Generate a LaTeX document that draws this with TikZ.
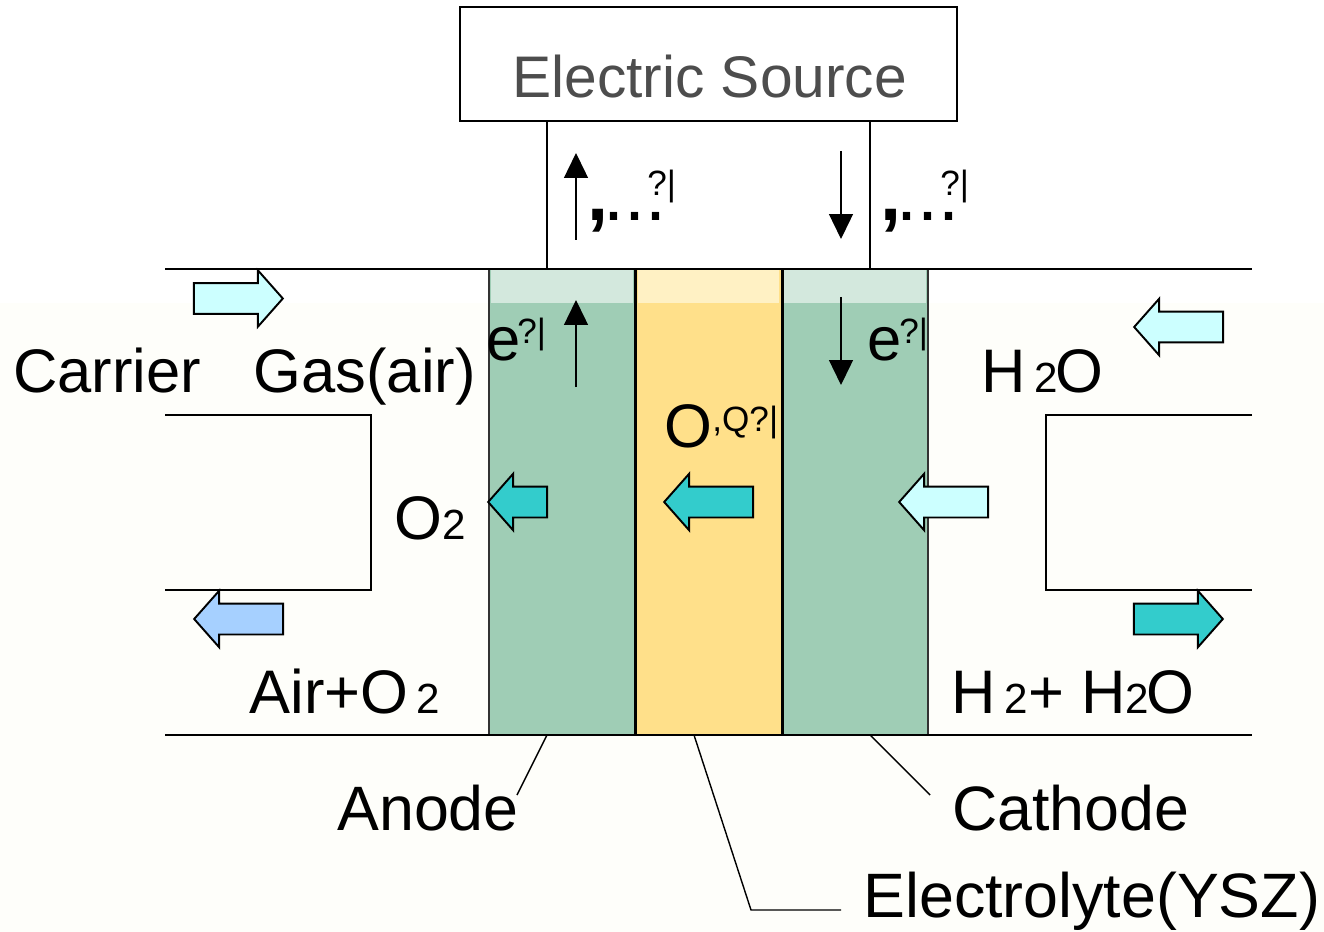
\documentclass[tikz,border=0pt]{standalone}
\usepackage{fontspec}
\setmainfont{Liberation Sans}
\usetikzlibrary{arrows.meta,shapes.arrows}
\definecolor{paper}{HTML}{FEFEFA}
\definecolor{layergreen}{HTML}{9FCDB5}
\definecolor{stripgreen}{HTML}{D3E8DD}
\definecolor{layeryellow}{HTML}{FFE08A}
\definecolor{stripyellow}{HTML}{FFF1C4}
\definecolor{flowpale}{HTML}{CCFFFF}
\definecolor{flowteal}{HTML}{33CCCC}
\definecolor{flowblue}{HTML}{A6D0FF}
\definecolor{sourcegrey}{HTML}{4D4D4D}
\newcommand{\lblsize}{\fontsize{35}{40}\selectfont}
\newcommand{\biglblsize}{\fontsize{35.7}{40}\selectfont}
\newcommand{\supsize}{\fontsize{20}{24}\selectfont}
\newcommand{\smalltwo}{{\fontsize{24}{28}\selectfont 2}}
\tikzset{
  lbl/.style={anchor=base west,inner sep=0pt,font=\lblsize},
  biglbl/.style={lbl,font=\biglblsize},
  suplbl/.style={anchor=base west,inner sep=0pt,font=\supsize},
  dotlbl/.style={anchor=base west,inner sep=0pt,font=\fontsize{43}{50}\selectfont},
  layer/.style={draw=black!80,line width=1pt,minimum width=2.92cm,minimum height=9.32cm,inner sep=0pt,outer sep=0pt},
  strip/.style={minimum width=2.84cm,minimum height=0.66cm,inner sep=0pt,outer sep=0pt},
  flow/.style={draw=black,line width=1.1pt,single arrow,inner xsep=0pt,inner ysep=0.29cm,outer sep=0pt,minimum height=1.78cm,minimum width=1.09cm,
    single arrow head extend=0.255cm,single arrow head indent=0pt,single arrow tip angle=97},
  flowleft/.style={flow,shape border rotate=180},
  wire/.style={line width=0.8pt},
  electron/.style={line width=0.8pt,-{Triangle[length=0.5cm,width=0.48cm]}}
}
\begin{document}
\begin{tikzpicture}[x=0.02cm,y=-0.02cm]
    \useasboundingbox (0,0) rectangle (1324,932);
    \fill [white] (0,0) rectangle (1324,303);
    \fill [paper] (0,303) rectangle (1324,932);

    % cell layers
    \node [layer,fill=layergreen] (anode) at (562,502) {};
    \node [layer,fill=layeryellow] (electrolyte) at (708.5,502) {};
    \node [layer,fill=layergreen] (cathode) at (855,502) {};
    \node [strip,fill=stripgreen] (anodetop) at (562,286.5) {};
    \node [strip,fill=stripyellow] (electrolytetop) at (708.5,286.5) {};
    \node [strip,fill=stripgreen] (cathodetop) at (855,286.5) {};
    \draw [line width=1.7pt] (635,269) -- (635,735);
    \draw [line width=1.7pt] (782,269) -- (782,735);

    % gas channels
    \draw [wire] (165,269) -- (1252,269);
    \draw [wire] (165,735) -- (1252,735);
    \draw [wire] (165,415) -- (371,415) -- (371,590) -- (165,590);
    \draw [wire] (1252,415) -- (1046,415) -- (1046,590) -- (1252,590);

    % source and its wires
    \node [draw,wire,minimum width=9.94cm,minimum height=2.28cm,inner sep=0pt,outer sep=0pt] (source) at (708.5,64) {};
    \node [lbl,text=sourcegrey,font=\fontsize{33.4}{40}\selectfont] (sourcelbl) at (512,98) {Electric Source};
    \coordinate (w1) at (547,269);
    \coordinate (w2) at (870,269);
    \draw [wire] (source.south -| w1) -- (w1);
    \draw [wire] (source.south -| w2) -- (w2);

    % electrons
    \coordinate (a1) at (576,240);
    \coordinate (a2) at (576,153);
    \coordinate (a3) at (841,151);
    \coordinate (a4) at (841,239);
    \coordinate (a5) at (576,387);
    \coordinate (a6) at (576,300);
    \coordinate (a7) at (841,297);
    \coordinate (a8) at (841,385);
    \draw [electron] (a1) -- (a2);
    \draw [electron] (a3) -- (a4);
    \draw [electron] (a5) -- (a6);
    \draw [electron] (a7) -- (a8);
    \node [dotlbl] (d1) at (587,221) {\textbf{,}\hspace{-0.09cm}...};
    \node [suplbl] (d1s) at (647,196) {?|};
    \node [dotlbl] (d2) at (880,221) {\textbf{,}\hspace{-0.09cm}...};
    \node [suplbl] (d2s) at (940,196) {?|};
    \node [lbl] (e1) at (486,360) {e};
    \node [suplbl] (e1s) at (517,343) {?|};
    \node [lbl] (e2) at (867,360) {e};
    \node [suplbl] (e2s) at (899,343) {?|};

    % flows
    \node [flow,fill=flowpale] (airin) at (231.5,298.5) {};
    \node [flowleft,fill=flowpale] (waterin) at (1185.5,327) {};
    \node [flowleft,fill=flowpale] (waterc) at (950.5,502) {};
    \node [flowleft,fill=flowteal] (oxygen) at (715.5,502) {};
    \node [flowleft,fill=flowteal,minimum height=1.18cm] (oxygena) at (524.5,502) {};
    \node [flowleft,fill=flowblue] (airout) at (245.5,619) {};
    \node [flow,fill=flowteal] (hydrogen) at (1171.5,619) {};

    % labels
    \node [lbl] (carrier) at (13,392) {Carrier\hspace{1.05cm}Gas(air)};
    \node [lbl] (water) at (981,392) {H\hspace{0.18cm}\smalltwo\hspace{-0.06cm}O};
    \node [lbl] (o2) at (394,539) {O\smalltwo};
    \node [lbl] (ion) at (664,447) {O};
    \node [suplbl] (ions) at (712,431) {,Q?|};
    \node [lbl] (airo2) at (249,713) {Air+O\hspace{0.16cm}\smalltwo};
    \node [lbl] (h2) at (951,713) {H\hspace{0.18cm}\smalltwo+ H\smalltwo\hspace{-0.06cm}O};
    \node [biglbl] (anodelbl) at (337,830) {Anode};
    \node [biglbl] (cathodelbl) at (952,830) {Cathode};
    \node [biglbl] (electrolytelbl) at (863,917) {Electrolyte(YSZ)};

    % leaders
    \coordinate (l1) at (547,735);
    \coordinate (l2) at (517,795);
    \coordinate (l3) at (694,735);
    \coordinate (l4) at (751,910);
    \coordinate (l5) at (841,910);
    \coordinate (l6) at (870,735);
    \coordinate (l7) at (930,795);
    \draw [wire] (l1) -- (l2);
    \draw [wire] (l3) -- (l4) -- (l5);
    \draw [wire] (l6) -- (l7);
\end{tikzpicture}
\end{document}
